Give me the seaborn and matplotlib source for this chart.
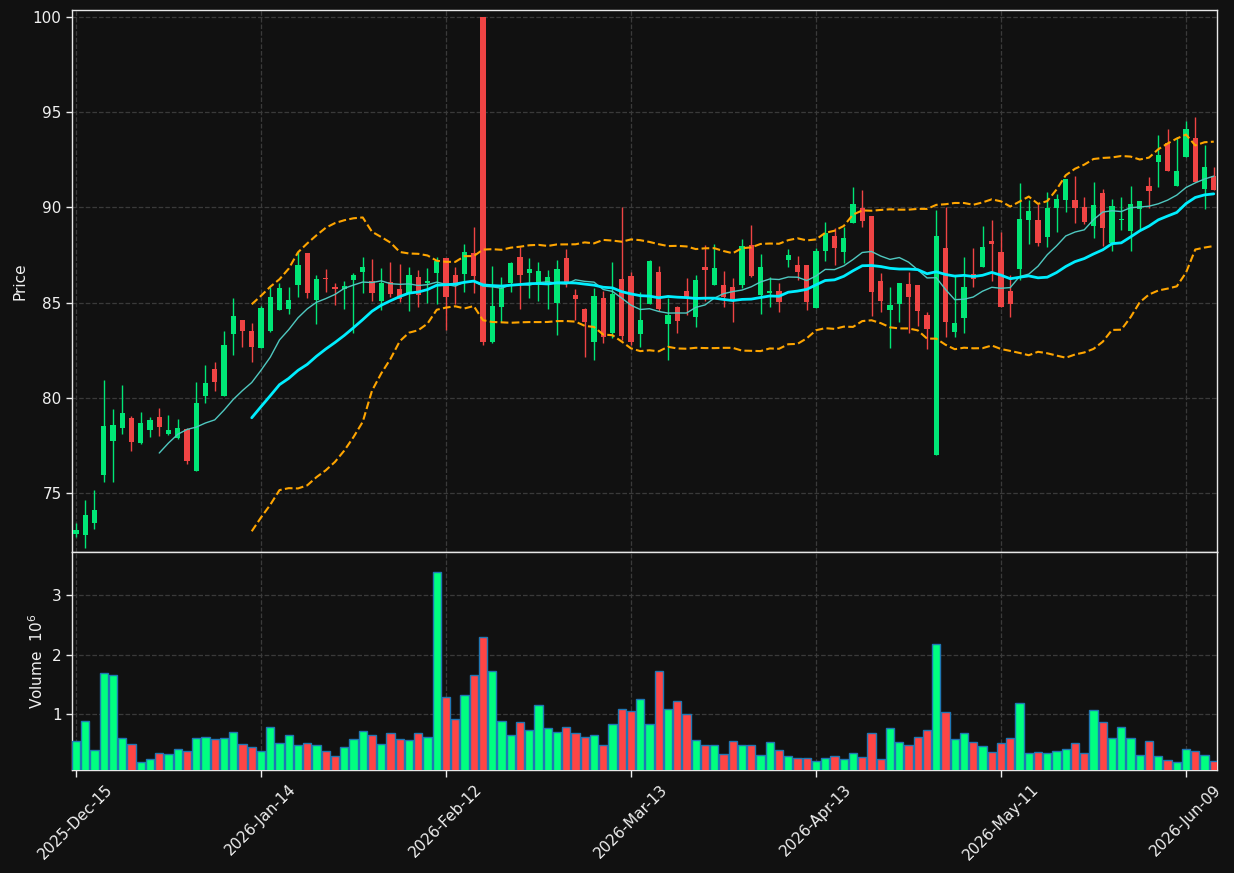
import numpy as np
import pandas as pd
import matplotlib
matplotlib.use("Agg")
import matplotlib.pyplot as plt
import seaborn as sns

# ---------------- data ----------------
tick_labels = ["2025-Dec-15", "2026-Jan-14", "2026-Feb-12", "2026-Mar-13",
               "2026-Apr-13", "2026-May-11", "2026-Jun-09"]
tick_every = 20

opens = [72.87, 72.83, 73.46, 75.96, 77.76, 78.43, 78.95, 77.64, 78.32, 79.00,
         78.11, 77.90, 78.36, 76.19, 80.12, 81.52, 80.12, 83.37, 84.09, 83.51,
         82.64, 83.53, 84.62, 84.67, 85.93, 87.60, 85.16, 86.29, 85.82, 85.73,
         86.19, 86.61, 86.14, 85.09, 86.08, 85.72, 85.52, 86.35, 86.01, 86.57,
         87.34, 86.45, 86.52, 87.60, 100.0, 82.95, 84.79, 86.05, 87.38, 86.55,
         85.94, 85.94, 85.00, 87.34, 85.38, 84.65, 82.95, 85.24, 83.39, 86.24,
         86.40, 83.36, 84.93, 86.61, 83.88, 84.76, 85.61, 84.27, 86.87, 85.94,
         85.93, 85.82, 85.93, 88.00, 85.40, 85.51, 85.61, 87.25, 86.97, 86.97,
         84.74, 87.73, 88.50, 87.67, 89.19, 89.95, 89.54, 86.14, 84.61, 84.95,
         85.98, 85.93, 84.35, 77.01, 87.88, 83.48, 84.21, 86.50, 86.89, 88.23,
         87.66, 85.61, 86.78, 89.35, 89.33, 88.46, 89.98, 90.38, 90.38, 90.02,
         89.02, 90.75, 88.11, 89.32, 88.76, 89.91, 91.12, 92.38, 93.36, 91.13,
         92.66, 93.62, 90.98, 91.64]
highs = [73.43, 74.65, 75.18, 80.94, 79.41, 80.68, 79.06, 79.25, 78.99, 79.46,
         79.11, 78.88, 78.40, 80.82, 81.73, 81.87, 83.51, 85.23, 84.09, 83.95,
         84.83, 85.84, 86.01, 85.80, 87.67, 87.60, 86.45, 86.77, 86.01, 86.14,
         86.57, 87.38, 87.27, 86.80, 87.15, 87.03, 86.85, 86.71, 86.80, 87.38,
         87.34, 86.85, 88.08, 88.95, 100.0, 86.94, 86.33, 87.15, 87.90, 87.32,
         87.11, 86.70, 87.22, 87.80, 85.70, 84.70, 85.75, 85.60, 87.15, 90.00,
         86.62, 85.56, 87.24, 86.92, 85.23, 84.80, 86.28, 86.45, 88.00, 88.07,
         86.66, 86.28, 88.32, 89.07, 87.55, 86.36, 86.01, 87.80, 87.45, 86.97,
         87.85, 89.21, 88.90, 88.95, 91.05, 90.91, 89.54, 86.54, 85.80, 86.03,
         86.59, 85.93, 84.53, 89.86, 90.00, 86.40, 87.38, 87.85, 89.02, 89.33,
         88.70, 86.45, 91.30, 90.38, 90.17, 90.82, 90.68, 91.50, 91.62, 90.52,
         91.31, 90.94, 90.42, 90.56, 91.10, 90.33, 91.57, 93.79, 94.09, 93.67,
         94.54, 94.72, 93.25, 92.13]
lows = [72.73, 72.12, 73.11, 75.61, 75.61, 78.10, 77.24, 77.61, 77.97, 78.03,
        78.08, 77.83, 76.52, 76.19, 79.72, 80.39, 80.12, 82.27, 82.66, 81.87,
        82.64, 83.48, 84.62, 84.41, 85.31, 85.23, 83.86, 85.54, 84.90, 84.65,
        83.39, 85.49, 85.10, 84.61, 85.28, 85.05, 84.58, 84.79, 84.96, 84.93,
        83.57, 84.93, 85.58, 85.49, 82.78, 82.90, 84.00, 85.58, 84.65, 85.23,
        85.10, 84.65, 83.29, 85.80, 84.09, 82.17, 81.99, 82.87, 83.13, 83.04,
        82.78, 82.69, 84.93, 84.55, 81.98, 83.39, 84.37, 83.74, 85.10, 85.90,
        84.79, 83.96, 85.75, 86.36, 84.39, 84.75, 84.49, 86.85, 86.19, 84.62,
        84.74, 87.20, 86.98, 87.06, 89.19, 88.98, 84.32, 84.53, 82.60, 84.00,
        83.43, 83.79, 82.59, 77.01, 83.18, 83.22, 83.39, 85.84, 86.89, 86.15,
        84.79, 84.27, 86.19, 88.08, 87.97, 87.94, 88.72, 89.77, 89.19, 89.12,
        88.37, 87.99, 87.73, 88.81, 87.73, 88.81, 89.98, 91.08, 91.90, 91.13,
        92.66, 91.34, 89.89, 90.91]
closes = [73.08, 73.87, 74.13, 78.53, 78.59, 79.21, 77.69, 78.69, 78.85, 78.48,
          78.32, 78.43, 76.70, 79.74, 80.77, 80.84, 82.78, 84.30, 83.53, 82.69,
          84.72, 85.30, 85.77, 85.14, 86.98, 85.52, 86.24, 86.22, 85.73, 85.87,
          86.45, 86.87, 85.52, 86.04, 85.47, 85.21, 86.45, 85.40, 86.14, 87.20,
          85.30, 85.93, 87.66, 86.42, 82.95, 84.82, 85.75, 87.08, 86.47, 86.77,
          86.66, 86.35, 86.77, 86.10, 85.21, 84.00, 85.35, 83.22, 85.45, 83.26,
          82.95, 84.09, 87.18, 84.67, 84.35, 84.06, 85.31, 86.19, 86.73, 86.81,
          85.31, 85.19, 87.97, 86.40, 86.87, 85.61, 85.05, 87.50, 86.63, 85.05,
          87.71, 88.64, 87.88, 88.37, 90.17, 89.30, 85.58, 85.10, 84.88, 86.03,
          85.31, 84.58, 83.64, 88.50, 84.00, 83.93, 85.82, 86.26, 87.92, 88.09,
          84.79, 84.95, 89.39, 89.81, 88.15, 89.96, 90.44, 91.48, 89.98, 89.25,
          90.12, 88.93, 90.07, 89.39, 90.17, 90.33, 90.86, 92.74, 91.90, 91.90,
          94.11, 91.34, 92.10, 90.91]
volumes_m = [0.554, 0.89, 0.40, 1.69, 1.66, 0.605, 0.503, 0.198, 0.25, 0.35,
             0.334, 0.42, 0.385, 0.605, 0.62, 0.588, 0.605, 0.69, 0.503, 0.453,
             0.385, 0.79, 0.52, 0.64, 0.486, 0.52, 0.486, 0.385, 0.30, 0.453,
             0.588, 0.707, 0.64, 0.503, 0.673, 0.588, 0.571, 0.673, 0.62, 3.385,
             1.288, 0.91, 1.317, 1.656, 2.30, 1.72, 0.876, 0.64, 0.86, 0.74,
             1.147, 0.757, 0.69, 0.775, 0.673, 0.62, 0.64, 0.486, 0.84, 1.08,
             1.05, 1.25, 0.825, 1.72, 1.08, 1.215, 0.995, 0.57, 0.486, 0.486,
             0.334, 0.554, 0.486, 0.486, 0.317, 0.537, 0.40, 0.30, 0.266, 0.266,
             0.215, 0.266, 0.30, 0.25, 0.35, 0.283, 0.673, 0.25, 0.757, 0.537,
             0.486, 0.62, 0.74, 2.18, 1.03, 0.588, 0.673, 0.537, 0.47, 0.368,
             0.52, 0.605, 1.18, 0.35, 0.368, 0.35, 0.385, 0.42, 0.52, 0.35,
             1.06, 0.86, 0.605, 0.775, 0.605, 0.317, 0.554, 0.30, 0.232, 0.198,
             0.42, 0.385, 0.317, 0.215]

# ---------------- derived ----------------
df = pd.DataFrame({"Open": opens, "High": highs, "Low": lows,
                   "Close": closes, "Volume": volumes_m})
df["idx"] = np.arange(len(df))
df["mav10"] = df["Close"].rolling(10).mean()
df["mav20"] = df["Close"].rolling(20).mean()
std20 = df["Close"].rolling(20).std(ddof=0)
df["bb_up"] = df["mav20"] + 2 * std20
df["bb_lo"] = df["mav20"] - 2 * std20
up = df["Close"] >= df["Open"]

BG = "#111111"
UP_C, DN_C = "#00e676", "#ef4444"
VUP_C, VDN_C = "#00ff80", "#ff4545"
GRID_C = "#3a3a3a"
TXT_C = "#f0f0f0"

sns.set_theme(style="dark")
plt.rcParams["font.family"] = ["DejaVu Sans"]

fig = plt.figure(figsize=(12.34, 8.73), dpi=100, facecolor=BG)
ax = fig.add_axes([0.05835, 0.3677, 0.92788, 0.62085], facecolor=BG)
axv = fig.add_axes([0.05835, 0.11798, 0.92788, 0.24971], facecolor=BG, sharex=ax)

# candles
ccol = np.where(up, UP_C, DN_C)
ax.vlines(df["idx"], df["Low"], df["High"], colors=ccol, linewidth=1.0, zorder=2)
body_lo = np.minimum(df["Open"], df["Close"])
body_h = np.maximum(np.abs(df["Close"] - df["Open"]), 0.06)
ax.bar(df["idx"], body_h, bottom=body_lo, width=0.56, color=ccol,
       linewidth=0, zorder=3)

# moving averages and bands
sns.lineplot(data=df, x="idx", y="mav10", ax=ax, color="#4fc8c0",
             linewidth=1.0, zorder=4)
sns.lineplot(data=df, x="idx", y="mav20", ax=ax, color="#00eeff",
             linewidth=2.0, zorder=5)
sns.lineplot(data=df, x="idx", y="bb_up", ax=ax, color="#ffa500",
             linewidth=1.5, linestyle="--", zorder=4)
sns.lineplot(data=df, x="idx", y="bb_lo", ax=ax, color="#ffa500",
             linewidth=1.5, linestyle="--", zorder=4)

# volume
vcol = np.where(up, VUP_C, VDN_C)
axv.bar(df["idx"], df["Volume"], width=0.9, color=vcol,
        edgecolor="#1f77b4", linewidth=1.0, zorder=3)

# axes styling
n = len(df)
ax.set_xlim(-0.43, n - 0.65)
ax.set_ylim(71.92, 100.35)
axv.set_ylim(0.3 * min(volumes_m), 1.1 * max(volumes_m))

ticks = np.arange(0, n, tick_every)[:len(tick_labels)]
axv.set_xticks(ticks)
axv.set_xticklabels(tick_labels, rotation=45, color=TXT_C, fontsize=11)
ax.tick_params(axis="x", labelbottom=False, length=0)
ax.set_yticks([75, 80, 85, 90, 95, 100])
axv.set_yticks([1, 2, 3])

for a in (ax, axv):
    a.grid(True, linestyle="--", color=GRID_C, linewidth=0.9, zorder=0)
    a.set_axisbelow(True)
    a.tick_params(axis="y", colors=TXT_C, labelsize=11, length=4,
                  width=1, left=True)
    for s in a.spines.values():
        s.set_color("#e8e8e8")
        s.set_linewidth(1.0)
axv.tick_params(axis="x", colors=TXT_C, labelsize=11, length=5, width=1,
                bottom=True)
ax.set_xlabel("")
axv.set_xlabel("")
ax.set_ylabel("Price", color=TXT_C, fontsize=11)
axv.set_ylabel("Volume  $10^{6}$", color=TXT_C, fontsize=11)

fig.savefig("out.png", dpi=100, facecolor=BG)
